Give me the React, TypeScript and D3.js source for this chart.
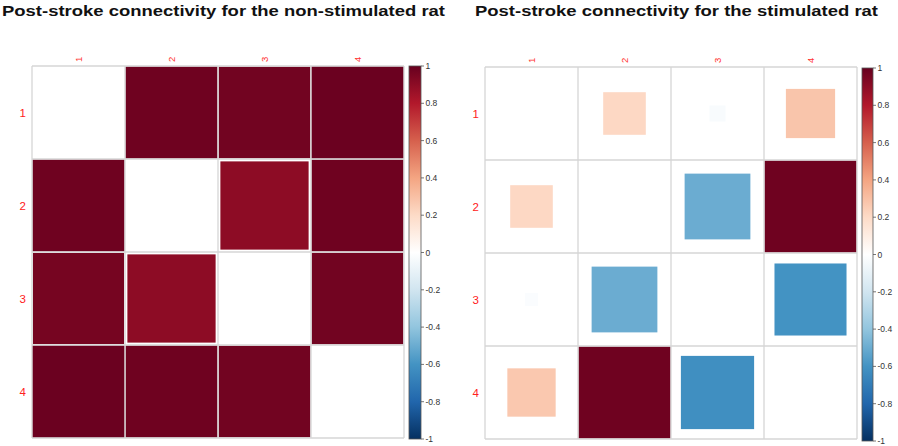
import React from "react";
import * as d3 from "d3";

const labels = ["1", "2", "3", "4"];

const nonStimulated: number[][] = [
  [0, 0.98, 0.97, 0.99],
  [0.98, 0, 0.9, 0.98],
  [0.96, 0.9, 0, 0.97],
  [0.99, 0.98, 0.97, 0],
];

const stimulated: number[][] = [
  [0, 0.21, -0.03, 0.28],
  [0.21, 0, -0.5, 0.98],
  [-0.02, -0.5, 0, -0.6],
  [0.27, 0.98, -0.62, 0],
];

const legendTicks = [1, 0.8, 0.6, 0.4, 0.2, 0, -0.2, -0.4, -0.6, -0.8, -1];
const paletteStops = [1, 0.8, 0.6, 0.4, 0.2, 0, -0.2, -0.4, -0.6, -0.8, -1];
const paletteColors = [
  "#67001F", "#B2182B", "#D6604D", "#F4A582", "#FDDBC7", "#FFFFFF",
  "#D1E5F0", "#92C5DE", "#4393C3", "#2166AC", "#053061",
];

const titles = [
  "Post-stroke connectivity for the non-stimulated rat",
  "Post-stroke connectivity for the stimulated rat",
];

const color = d3.scaleLinear<string>().domain(paletteStops).range(paletteColors).interpolate(d3.interpolateRgb);

type PanelProps = {
  id: string;
  title: string;
  data: number[][];
  gx: [number, number];
  gy: [number, number];
  bar: [number, number, number, number];
  titleX: number;
  titleW: number;
  rowLabelX: number;
};

function Panel({ id, title, data, gx, gy, bar, titleX, titleW, rowLabelX }: PanelProps) {
  const x = d3.scaleBand<string>().domain(labels).range(gx);
  const y = d3.scaleBand<string>().domain(labels).range(gy);
  const bw = x.bandwidth();
  const bh = y.bandwidth();
  const [bx0, bx1, by0, by1] = bar;
  const ly = d3.scaleLinear().domain([1, -1]).range([by0, by1]);
  const gridColor = "#d6d6d6";
  return (
    <g>
      <text x={titleX} y={16} fontFamily="Liberation Sans, Arial, sans-serif" fontWeight="bold" fontSize={15.5} fill="#111" textLength={titleW} lengthAdjust="spacingAndGlyphs">
        {title}
      </text>
      {data.map((row, i) =>
        row.map((v, j) => {
          if (v === 0) return null;
          const s = Math.sqrt(Math.abs(v));
          const cx = x(labels[j])! + bw / 2;
          const cy = y(labels[i])! + bh / 2;
          const w = bw * s;
          const h = bh * s;
          return <rect key={`${i}-${j}`} x={cx - w / 2} y={cy - h / 2} width={w} height={h} fill={color(v)} />;
        })
      )}
      {d3.range(labels.length + 1).map((k) => {
        const xx = gx[0] + k * bw;
        const yy = gy[0] + k * bh;
        return (
          <g key={`g${k}`}>
            <line x1={xx} x2={xx} y1={gy[0]} y2={gy[1]} stroke={gridColor} strokeWidth={1.3} />
            <line x1={gx[0]} x2={gx[1]} y1={yy} y2={yy} stroke={gridColor} strokeWidth={1.3} />
          </g>
        );
      })}
      {labels.map((l) => {
        const cx = x(l)! + bw / 2;
        return (
          <text key={`c${l}`} transform={`translate(${cx + 3.5},${gy[0] - 4}) rotate(-90)`} fontFamily="Liberation Sans, Arial, sans-serif" fontSize={9.5} fill="#ff3030" textAnchor="start">
            {l}
          </text>
        );
      })}
      {labels.map((l) => {
        const cy = y(l)! + bh / 2;
        return (
          <text key={`r${l}`} x={rowLabelX} y={cy + 4} fontFamily="Liberation Sans, Arial, sans-serif" fontSize={11.5} fill="#ff2020" textAnchor="end">
            {l}
          </text>
        );
      })}
      <defs>
        <linearGradient id={`grad-${id}`} x1="0" y1="0" x2="0" y2="1">
          {paletteStops.map((s, k) => (
            <stop key={k} offset={(1 - s) / 2} stopColor={paletteColors[k]} />
          ))}
        </linearGradient>
      </defs>
      <rect x={bx0} y={by0} width={bx1 - bx0} height={by1 - by0} fill={`url(#grad-${id})`} stroke="#555" strokeWidth={0.8} />
      {legendTicks.map((t) => (
        <g key={`t${t}`}>
          <line x1={bx1} x2={bx1 + 3} y1={ly(t)} y2={ly(t)} stroke="#555" strokeWidth={0.8} />
          <text x={bx1 + 4.5} y={ly(t) + 3} fontFamily="Liberation Sans, Arial, sans-serif" fontSize={8.5} fill="#333">
            {t}
          </text>
        </g>
      ))}
    </g>
  );
}

export default function App() {
  return (
    <svg width={898} height={446} style={{ display: "block", position: "absolute", left: 0, top: 0, background: "#fff" }}>
      <rect width={898} height={446} fill="#fff" />
      <Panel id="a" title={titles[0]} data={nonStimulated} gx={[32, 404]} gy={[66, 438]} bar={[409, 421, 66, 439]} titleX={2} titleW={443} rowLabelX={26} />
      <Panel id="b" title={titles[1]} data={stimulated} gx={[485, 857]} gy={[67, 439]} bar={[862, 873, 68, 441]} titleX={475} titleW={403} rowLabelX={479} />
    </svg>
  );
}
